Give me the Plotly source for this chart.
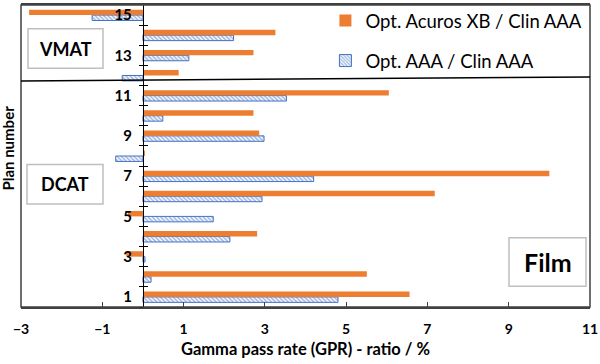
import plotly.graph_objects as go

plans = list(range(1, 16))
acuros = [6.56, 5.51, -0.41, 2.81, -0.37, 7.18, 10.0, 0.05, 2.86, 2.72, 6.05, 0.88, 2.72, 3.26, -2.80]
aaa = [4.80, 0.20, 0.05, 2.14, 1.73, 2.93, 4.20, -0.67, 2.98, 0.49, 3.53, -0.51, 1.13, 2.23, -1.25]
x_ticks = [-3, -1, 1, 3, 5, 7, 9, 11]
y_ticks = [1, 3, 5, 7, 9, 11, 13, 15]

ORANGE = "#ED7D31"
BLUE = "#4472C4"
FONT = "Lato"

fig = go.Figure()
fig.add_trace(go.Bar(
    y=plans, x=aaa, orientation="h", name="Opt. AAA / Clin AAA",
    marker=dict(color="white", line=dict(color=BLUE, width=1),
                pattern=dict(shape="\\", fgcolor=BLUE, bgcolor="white", size=3, solidity=0.55)),
    legendrank=2, legendgroup="b",
))
fig.add_trace(go.Bar(
    y=plans, x=acuros, orientation="h", name="Opt. Acuros XB / Clin AAA",
    marker=dict(color=ORANGE, line=dict(width=0)),
    legendrank=1, legendgroup="a",
))

boundaries = [i + 0.5 for i in range(0, 15)]

fig.update_layout(
    width=600, height=364,
    margin=dict(l=21, r=10, t=2, b=57),
    paper_bgcolor="white", plot_bgcolor="white",
    barmode="group", bargap=0.46, bargroupgap=0.0,
    font=dict(family=FONT, color="black"),
    showlegend=True,
    legend=dict(x=0.535, y=1.01, xanchor="left", yanchor="top",
                font=dict(size=18.5, family=FONT, color="black"),
                bgcolor="rgba(0,0,0,0)", tracegroupgap=13,
                itemwidth=30),
    xaxis=dict(range=[-3, 11], tickvals=x_ticks, ticks="inside", ticklen=5,
               tickcolor="#404040", showgrid=False, zeroline=False,
               showline=True, linecolor="#404040", linewidth=1.5, mirror=True,
               tickfont=dict(size=14, family=FONT, weight="bold"),
               ticklabelstandoff=8,
               title=dict(text="Gamma pass rate (GPR) - ratio / %",
                          font=dict(size=16.5, family=FONT, weight="bold"), standoff=8)),
    yaxis=dict(range=[0.5, 15.5], tickvals=y_ticks, ticks="", showgrid=False,
               zeroline=False, showline=True, linecolor="black", linewidth=1.2,
               anchor="free", position=3 / 14,
               tickfont=dict(size=15, family=FONT, weight="bold"),
               ticklabelstandoff=8,
               minor=dict(tickvals=boundaries, ticks="outside", ticklen=4,
                          tickcolor="black", showgrid=False)),
    yaxis2=dict(range=[0.5, 15.5], overlaying="y", anchor="free", position=3 / 14,
                showticklabels=False, tickvals=boundaries, ticks="inside",
                ticklen=4, tickcolor="black", showgrid=False, zeroline=False,
                showline=False),
)

# hidden trace to activate yaxis2
fig.add_trace(go.Scatter(x=[0], y=[1], yaxis="y2", mode="markers",
                         marker=dict(opacity=0), showlegend=False, hoverinfo="skip"))

# outer frame
fig.add_shape(type="rect", xref="paper", yref="paper", x0=0, x1=1, y0=0, y1=1,
              line=dict(color="#404040", width=1.5), fillcolor="rgba(0,0,0,0)")
# y axis title as annotation
fig.add_annotation(text="Plan number", xref="paper", yref="paper", x=(8 - 21) / 569,
                   y=1 - (147 - 2) / 305,
                   textangle=-90, showarrow=False, xanchor="center", yanchor="middle",
                   font=dict(size=15, family=FONT, weight="bold"))
# VMAT / DCAT separator
fig.add_shape(type="line", xref="paper", yref="y", x0=0, x1=1, y0=11.73, y1=11.93,
              line=dict(color="black", width=1.5))

# label boxes
for txt, x0, x1, y0, y1, size in [
    ("VMAT", 28, 103, 26, 66, 18),
    ("DCAT", 27, 103, 163, 203, 18),
    ("Film", 509, 586, 237, 286, 25),
]:
    px0 = (x0 - 21) / 569
    px1 = (x1 - 21) / 569
    py0 = 1 - (y1 - 2) / 305
    py1 = 1 - (y0 - 2) / 305
    fig.add_shape(type="rect", xref="paper", yref="paper", x0=px0, x1=px1, y0=py0, y1=py1,
                  line=dict(color="#BFBFBF", width=1.5), fillcolor="white")
    fig.add_annotation(text=txt, xref="paper", yref="paper", x=(px0 + px1) / 2,
                       y=(py0 + py1) / 2, showarrow=False, xanchor="center", yanchor="middle",
                       font=dict(size=size, family=FONT, weight="bold"))

fig.write_html("out.html", config={"displayModeBar": False},
               post_script="document.body.style.margin='0px';")
